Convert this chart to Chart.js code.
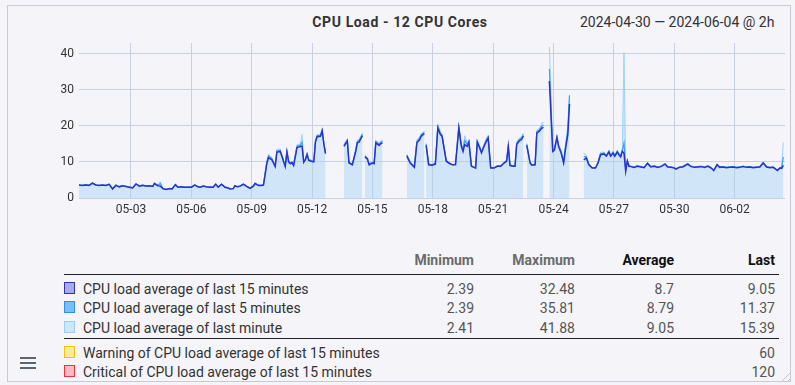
<!DOCTYPE html>
<html>
<head>
<meta charset="utf-8">
<script src="https://cdn.jsdelivr.net/npm/chart.js@4.4.1/dist/chart.umd.min.js"></script>
<style>
  html, body { margin: 0; padding: 0; }
  body { width: 795px; height: 385px; background: #f4f4f9; position: relative; overflow: hidden;
         font-family: Roboto, "Noto Sans", sans-serif; color: #333; }
  .box { position: absolute; left: 7px; top: 5px; width: 784px; height: 377px; box-sizing: border-box;
         border: 1px solid #cacad6; }
  .title { position: absolute; top: 12px; left: 0; width: 800px; text-align: center; font-size: 14px;
           font-weight: bold; letter-spacing: 0.6px; color: #333; line-height: 20px; }
  .range { position: absolute; top: 12px; left: 580px; font-size: 14px; color: #333; line-height: 20px; white-space: nowrap; }
  #cpuChart { position: absolute; left: 0; top: 0; }
  .hdr, .row { position: absolute; left: 0; width: 795px; height: 18px; line-height: 18px; font-size: 14px; }
  .hdr span { position: absolute; font-weight: bold; text-align: right; }
  .hdr .dim { color: #6b6b6b; }
  .hdr .dark { color: #111; }
  .row .sw { position: absolute; left: 64px; top: 2px; width: 9px; height: 10px; border: 1px solid; }
  .row .name { position: absolute; left: 83px; color: #333; white-space: nowrap; }
  .row .num { position: absolute; text-align: right; color: #555; }
  .rule { position: absolute; left: 64px; width: 715px; height: 1px; background: #222; }
  .burger { position: absolute; left: 20px; width: 16px; height: 2px; background: #5c6670; }
  .grip { position: absolute; left: 778px; top: 369px; width: 12px; height: 12px;
          background: repeating-linear-gradient(135deg, transparent 0 3px, #c4c4cc 3px 4px);
          clip-path: polygon(100% 0, 100% 100%, 0 100%); }
</style>
</head>
<body>
<div class="box"></div>
<div class="title">CPU Load - 12 CPU Cores</div>
<div class="range">2024-04-30 — 2024-06-04 @ 2h</div>
<canvas id="cpuChart" width="795" height="225"></canvas>

<div class="hdr" style="top:251px">
  <span class="dim" style="right:321px">Minimum</span>
  <span class="dim" style="right:220px">Maximum</span>
  <span class="dark" style="right:121px">Average</span>
  <span class="dark" style="right:20px">Last</span>
</div>
<div class="rule" style="top:274px"></div>

<div class="row" style="top:280px">
  <div class="sw" style="background:#a9abe6;border-color:#3034b0"></div>
  <span class="name">CPU load average of last 15 minutes</span>
  <span class="num" style="right:321px">2.39</span>
  <span class="num" style="right:220px">32.48</span>
  <span class="num" style="right:121px">8.7</span>
  <span class="num" style="right:20px">9.05</span>
</div>
<div class="row" style="top:299px">
  <div class="sw" style="background:#7bbdf5;border-color:#2d8fe8"></div>
  <span class="name">CPU load average of last 5 minutes</span>
  <span class="num" style="right:321px">2.39</span>
  <span class="num" style="right:220px">35.81</span>
  <span class="num" style="right:121px">8.79</span>
  <span class="num" style="right:20px">11.37</span>
</div>
<div class="row" style="top:319px">
  <div class="sw" style="background:#cbe7fb;border-color:#9acdf4"></div>
  <span class="name">CPU load average of last minute</span>
  <span class="num" style="right:321px">2.41</span>
  <span class="num" style="right:220px">41.88</span>
  <span class="num" style="right:121px">9.05</span>
  <span class="num" style="right:20px">15.39</span>
</div>
<div class="rule" style="top:338px"></div>
<div class="row" style="top:344px">
  <div class="sw" style="background:#fbe8a6;border-color:#f3c400"></div>
  <span class="name">Warning of CPU load average of last 15 minutes</span>
  <span class="num" style="right:20px">60</span>
</div>
<div class="row" style="top:363px">
  <div class="sw" style="background:#fbbcc3;border-color:#f03040"></div>
  <span class="name">Critical of CPU load average of last 15 minutes</span>
  <span class="num" style="right:20px">120</span>
</div>

<div class="burger" style="top:357px"></div>
<div class="burger" style="top:362px"></div>
<div class="burger" style="top:367px"></div>
<div class="grip"></div>

<script>
// hours since 2024-04-30 00:00, 2h RRD steps (null = no data)
const hours = [
  10, 14, 18, 22, 26, 30, 34, 38, 42, 46,
  50, 54, 58, 62, 66, 70, 74, 78, 82, 86,
  90, 94, 98, 100, 104, 107, 110, 114, 118, 121,
  125, 128, 132, 136, 140, 144, 148, 152, 155, 158,
  162, 166, 170, 173, 176, 180, 184, 188, 190, 194,
  196, 199, 202, 206, 210, 214, 218, 220, 224, 228,
  230, 234, 236, 240, 244, 246, 250, 252, 256, 258,
  260, 262, 264, 266, 270, 274, 276, 278, 280, 282,
  284, 288, 290, 292, 294, 298, 300, 302, 304, 315,
  326, 330, 332, 336, 340, 342, 344, 348, 349, 351,
  354, 356, 360, 362, 364, 368, 370, 372, 386, 401,
  405, 410, 413, 416, 418, 421, 422, 423, 424, 427,
  431, 435, 438, 441, 443, 448, 451, 455, 459, 463,
  466, 468, 470, 473, 475, 478, 481, 483, 485, 488,
  490, 493, 496, 498, 501, 505, 509, 513, 517, 520,
  522, 524, 528, 530, 532, 535, 538, 540, 542, 544,
  548, 550, 554, 556, 559, 562, 564, 567, 571, 575,
  577, 580, 582, 585, 588, 590, 593, 595, 603, 612,
  615, 618, 622, 626, 629, 632, 636, 639, 642, 644,
  647, 649, 652, 654, 656, 658, 660, 662, 664, 666,
  668, 672, 676, 680, 684, 688, 692, 696, 700, 704,
  709, 712, 716, 720, 722, 726, 730, 736, 740, 744,
  748, 752, 756, 760, 764, 767, 771, 774, 778, 782,
  786, 790, 794, 798, 802, 806, 810, 814, 818, 822,
  826, 830, 834, 838, 843, 846, 848, 850
];

const load15 = [
  3.6, 3.5, 3.6, 3.5, 4.1, 3.6, 3.5, 3.6, 3.5, 3.8,
  2.5, 3.5, 3.1, 3.4, 3.2, 3.0, 2.8, 3.9, 3.3, 3.5,
  3.3, 3.4, 3.2, 4.0, 3.4, 3.3, 2.6, 2.39, 2.6, 2.5,
  3.7, 3.0, 3.1, 3.0, 3.0, 3.0, 3.6, 3.1, 3.0, 3.3,
  3.1, 3.0, 3.0, 3.8, 3.0, 3.8, 3.0, 2.8, 2.5, 2.6,
  3.4, 3.1, 3.3, 3.8, 3.2, 2.7, 3.3, 4.0, 3.5, 3.5,
  3.6, 9.5, 11.2, 10.6, 8.7, 12.7, 12.9, 11.5, 8.7, 12.7,
  10.0, 9.5, 9.8, 9.0, 14.0, 14.3, 14.4, 9.9, 10.6, 12.0,
  10.4, 10.1, 10.0, 15.5, 17.0, 17.1, 18.6, 15.0, 12.3, null,
  14.3, 15.8, 9.7, 9.2, 12.9, 15.3, 15.5, 17.3, null, 11.4,
  10.8, 9.2, 9.7, 9.5, 15.3, 14.6, 15.1, 15.3, null, 11.6,
  9.7, 8.5, 15.3, 16.1, 17.1, 17.7, 17.8, null, 14.6, 9.2,
  9.1, 9.4, 19.4, 17.6, 17.1, 10.2, 9.7, 9.2, 9.2, 19.4,
  14.3, 12.9, 14.8, 14.3, 15.4, 8.8, 8.5, 8.3, 15.4, 13.8,
  12.5, 14.3, 15.8, 16.6, 8.3, 8.3, 8.8, 8.8, 9.7, 10.2,
  14.3, 9.0, 8.8, 8.8, 14.8, 15.8, 16.3, 17.2, null, 14.6,
  9.7, 9.1, 9.2, 18.0, 18.5, 19.4, 19.6, null, 32.48, 12.9,
  13.3, 16.7, 14.3, 12.5, 9.7, 13.3, 17.6, 26.1, null, 10.6,
  11.1, 9.2, 8.3, 8.3, 9.7, 12.0, 12.2, 11.6, 12.7, 11.6,
  12.4, 11.6, 12.7, 12.0, 11.4, 12.9, 12.4, 7.4, 10.2, 8.8,
  8.7, 8.5, 8.8, 8.6, 8.4, 9.6, 8.6, 8.8, 8.5, 8.7,
  9.4, 8.6, 8.5, 8.3, 8.0, 8.5, 8.6, 9.4, 8.7, 8.5,
  8.6, 8.7, 8.5, 8.8, 8.3, 7.6, 9.2, 8.5, 8.6, 8.4,
  8.5, 8.6, 8.4, 8.5, 8.7, 8.5, 8.6, 8.4, 8.5, 8.6,
  9.7, 8.6, 8.4, 8.5, 7.6, 8.3, 8.2, 9.05
];

const load5 = [
  3.6, 3.5, 3.7, 3.5, 4.2, 3.6, 3.5, 3.6, 3.5, 3.8,
  2.6, 3.6, 3.1, 3.4, 3.2, 3.0, 2.9, 3.9, 3.3, 3.5,
  3.3, 3.4, 3.3, 4.1, 3.5, 4.0, 2.6, 2.39, 2.6, 2.5,
  3.7, 3.0, 3.1, 3.0, 3.0, 3.0, 3.6, 3.1, 3.0, 3.3,
  3.1, 3.0, 3.0, 3.9, 3.0, 3.8, 3.0, 2.8, 2.5, 2.6,
  3.4, 3.1, 3.3, 3.9, 3.2, 2.7, 3.4, 4.1, 3.5, 3.5,
  3.7, 9.9, 11.7, 10.9, 8.9, 13.1, 13.2, 11.8, 8.9, 13.0,
  10.3, 9.7, 10.0, 9.3, 14.4, 14.7, 15.5, 10.1, 10.8, 12.3,
  10.6, 10.3, 10.2, 15.9, 17.3, 17.4, 18.9, 15.3, 12.4, null,
  14.6, 16.1, 9.9, 9.3, 13.2, 15.7, 15.9, 17.7, null, 11.7,
  11.0, 9.4, 9.9, 9.7, 15.7, 14.9, 15.5, 15.7, null, 11.9,
  9.9, 8.7, 15.7, 16.5, 17.5, 18.1, 18.2, null, 14.9, 9.4,
  9.2, 9.6, 19.9, 18.0, 17.4, 10.4, 9.8, 9.3, 9.3, 19.7,
  14.7, 13.5, 16.0, 14.8, 15.8, 8.9, 8.6, 8.4, 15.8, 14.1,
  12.8, 14.6, 16.2, 17.0, 8.4, 8.4, 8.9, 8.9, 9.8, 10.4,
  14.6, 9.1, 8.9, 8.9, 15.2, 16.2, 16.7, 17.6, null, 14.9,
  9.8, 9.2, 9.3, 18.4, 18.9, 20.0, 20.2, null, 35.81, 13.3,
  13.7, 17.0, 14.6, 12.8, 10.0, 13.9, 18.8, 28.5, null, 11.5,
  11.4, 9.4, 8.4, 8.4, 9.9, 12.3, 12.5, 11.8, 13.0, 11.8,
  12.7, 11.8, 13.0, 12.2, 11.6, 13.3, 15.3, 7.8, 10.4, 8.9,
  8.8, 8.6, 8.9, 8.7, 8.5, 9.7, 8.7, 8.9, 8.6, 8.8,
  9.5, 8.7, 8.6, 8.4, 8.1, 8.6, 8.7, 9.5, 8.8, 8.6,
  8.7, 8.8, 8.6, 8.9, 8.4, 7.7, 9.3, 8.6, 8.7, 8.5,
  8.6, 8.7, 8.5, 8.6, 8.8, 8.6, 8.7, 8.5, 8.6, 8.7,
  9.8, 8.7, 8.5, 8.6, 7.7, 8.4, 8.4, 11.37
];

const load1 = [
  3.7, 3.6, 3.8, 3.6, 4.3, 3.7, 3.6, 3.7, 3.5, 3.9,
  2.7, 3.7, 3.2, 3.5, 3.3, 3.1, 2.9, 4.0, 3.4, 3.6,
  3.4, 3.5, 3.3, 4.2, 3.6, 4.6, 2.7, 2.41, 2.6, 2.6,
  3.8, 3.1, 3.2, 3.0, 3.1, 3.1, 3.7, 3.2, 3.0, 3.4,
  3.2, 3.1, 3.0, 4.0, 3.1, 3.9, 3.1, 2.8, 2.5, 2.6,
  3.5, 3.2, 3.4, 4.0, 3.3, 2.8, 3.5, 4.2, 3.6, 3.6,
  3.8, 10.3, 12.1, 11.2, 9.1, 13.5, 13.6, 12.0, 9.1, 13.3,
  10.6, 9.9, 10.2, 9.5, 14.8, 15.0, 17.6, 10.3, 11.0, 12.6,
  10.8, 10.5, 10.4, 16.3, 17.6, 17.7, 19.2, 15.5, 12.6, null,
  14.9, 16.4, 10.1, 9.5, 13.5, 16.1, 16.3, 18.1, null, 12.0,
  11.2, 9.6, 10.1, 9.9, 16.0, 15.2, 15.9, 16.1, null, 12.2,
  10.1, 8.9, 16.1, 16.9, 17.8, 18.4, 18.5, null, 15.2, 9.5,
  9.3, 9.8, 20.5, 18.4, 17.7, 10.6, 9.9, 9.4, 9.4, 20.0,
  15.1, 14.0, 17.3, 15.3, 16.2, 9.0, 8.7, 8.5, 16.2, 14.4,
  13.1, 14.9, 16.6, 17.4, 8.5, 8.5, 9.0, 9.0, 9.9, 10.6,
  14.9, 9.2, 9.0, 9.0, 15.6, 16.6, 17.1, 18.0, null, 15.2,
  9.9, 9.3, 9.4, 18.8, 19.3, 20.8, 21.0, null, 41.88, 13.6,
  14.0, 17.3, 14.9, 13.4, 10.6, 14.8, 20.0, 28.5, null, 12.5,
  11.8, 9.6, 8.5, 8.5, 10.1, 12.6, 12.8, 12.0, 13.3, 12.0,
  13.0, 12.0, 13.3, 12.4, 11.8, 13.8, 40.3, 8.2, 10.6, 9.0,
  8.9, 8.7, 9.0, 8.8, 8.6, 9.8, 8.8, 9.0, 8.7, 8.9,
  9.6, 8.8, 8.7, 8.5, 8.2, 8.7, 8.8, 9.6, 8.9, 8.7,
  8.8, 8.9, 8.7, 9.0, 8.5, 7.8, 9.4, 8.7, 8.8, 8.6,
  8.7, 8.8, 8.6, 8.7, 8.9, 8.7, 8.8, 8.6, 8.7, 8.8,
  9.9, 8.8, 8.6, 8.7, 7.8, 8.5, 8.8, 15.39
];

const tickHours = [72, 144, 216, 288, 360, 432, 504, 576, 648, 720, 792];
const tickLabels = ["05-03", "05-06", "05-09", "05-12", "05-15", "05-18", "05-21", "05-24", "05-27", "05-30", "06-02"];
const yTicks = [0, 10, 20, 30, 40];

const toPoints = vals => hours.map((h, i) => ({ x: h, y: vals[i] }));

const gridColor = "#c9d0e1";
const tickFont = { family: "Roboto", size: 12 };

new Chart(document.getElementById("cpuChart").getContext("2d"), {
  type: "line",
  data: {
    datasets: [
      {
        label: "CPU load average of last 15 minutes",
        data: toPoints(load15),
        borderColor: "#2a33c8",
        borderWidth: 1.5,
        fill: false
      },
      {
        label: "CPU load average of last 5 minutes",
        data: toPoints(load5),
        borderColor: "#3d9ff6",
        borderWidth: 1.2,
        fill: false
      },
      {
        label: "CPU load average of last minute",
        data: toPoints(load1),
        borderColor: "#9ad3fb",
        backgroundColor: "rgba(165, 210, 245, 0.45)",
        borderWidth: 1,
        fill: "origin"
      }
    ]
  },
  options: {
    responsive: false,
    animation: false,
    spanGaps: false,
    layout: { padding: { top: 43, right: 10, left: 0, bottom: 0 } },
    elements: { point: { radius: 0 }, line: { tension: 0 } },
    plugins: { legend: { display: false }, tooltip: { enabled: false } },
    scales: {
      x: {
        type: "linear",
        min: 10,
        max: 852,
        afterBuildTicks: axis => { axis.ticks = tickHours.map(v => ({ value: v })); },
        afterFit: axis => { axis.height = 27; },
        border: { display: false },
        grid: { color: gridColor, drawTicks: false },
        ticks: {
          padding: 5,
          color: "#333",
          font: tickFont,
          maxRotation: 0,
          autoSkip: false,
          callback: v => tickLabels[tickHours.indexOf(v)]
        }
      },
      y: {
        min: 0,
        max: 43,
        afterBuildTicks: axis => { axis.ticks = yTicks.map(v => ({ value: v })); },
        afterFit: axis => { axis.width = 79; },
        border: { display: false },
        grid: { color: gridColor, drawTicks: false },
        ticks: { padding: 5, color: "#333", font: tickFont }
      }
    }
  }
});
</script>
</body>
</html>
